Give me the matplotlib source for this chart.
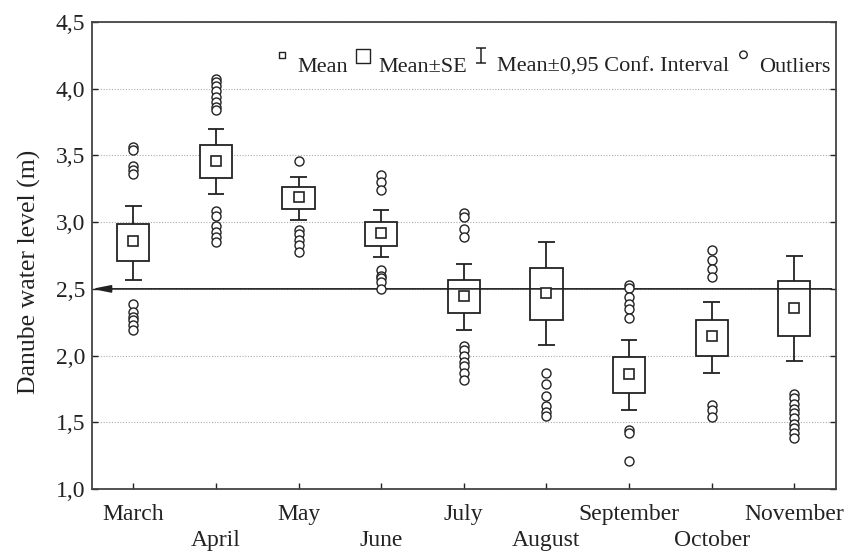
import numpy as np
import matplotlib
matplotlib.use("Agg")
import matplotlib.pyplot as plt
from matplotlib.lines import Line2D
from matplotlib.path import Path
from matplotlib.ticker import FuncFormatter

plt.rcParams["font.family"] = ["Liberation Serif", "DejaVu Serif"]

months = ["March", "April", "May", "June", "July", "August",
          "September", "October", "November"]

# values (m)
mean = [2.86, 3.46, 3.19, 2.92, 2.45, 2.47, 1.86, 2.15, 2.36]
se_low = [2.71, 3.33, 3.10, 2.82, 2.32, 2.27, 1.72, 2.00, 2.15]
se_high = [2.99, 3.58, 3.26, 3.00, 2.57, 2.66, 1.99, 2.27, 2.56]
ci_low = [2.57, 3.21, 3.02, 2.74, 2.19, 2.08, 1.59, 1.87, 1.96]
ci_high = [3.12, 3.70, 3.34, 3.09, 2.69, 2.85, 2.12, 2.40, 2.75]

outliers = [
    [3.56, 3.54, 3.42, 3.39, 3.36, 2.39, 2.33, 2.29, 2.27, 2.23, 2.19],
    [4.07, 4.05, 4.02, 3.98, 3.94, 3.90, 3.86, 3.84,
     3.08, 3.05, 2.97, 2.93, 2.89, 2.85],
    [3.46, 2.94, 2.91, 2.87, 2.83, 2.78],
    [3.35, 3.30, 3.24, 2.64, 2.60, 2.58, 2.55, 2.50],
    [3.07, 3.04, 2.95, 2.89, 2.07, 2.04, 2.00, 1.95, 1.92, 1.87, 1.82],
    [1.87, 1.79, 1.70, 1.62, 1.58, 1.55],
    [2.53, 2.51, 2.44, 2.39, 2.35, 2.28, 1.44, 1.42, 1.21],
    [2.79, 2.72, 2.65, 2.59, 1.63, 1.59, 1.54],
    [1.71, 1.68, 1.64, 1.60, 1.57, 1.53, 1.49, 1.46, 1.42, 1.38],
]

reference_level = 2.5

x = np.arange(1, len(months) + 1)
box_w = 0.39
cap_w = 0.2
ink = "#222222"


def raised_marker(path):
    """Marker path given in points; returns (path, markersize) so it keeps its offset."""
    return path, 2 * np.max(np.abs(path.vertices))


def square(side, lift):
    h = side / 2
    return Path([(-h, lift - h), (h, lift - h), (h, lift + h), (-h, lift + h), (-h, lift - h)],
                [Path.MOVETO, Path.LINETO, Path.LINETO, Path.LINETO, Path.CLOSEPOLY])


fig = plt.figure(figsize=(8.46, 5.51), dpi=100)
ax = fig.add_axes([0.1087, 0.1125, 0.879, 0.8475])

# grid
ax.set_axisbelow(True)
ax.yaxis.grid(True, color="#aaaaaa", linestyle=(0, (1, 1.5)), linewidth=0.8)

# whiskers (confidence interval)
ax.vlines(x, se_high, ci_high, color=ink, linewidth=1.3, zorder=2)
ax.vlines(x, ci_low, se_low, color=ink, linewidth=1.3, zorder=2)
ax.hlines(ci_high, x - cap_w / 2, x + cap_w / 2, color=ink, linewidth=1.3, zorder=2)
ax.hlines(ci_low, x - cap_w / 2, x + cap_w / 2, color=ink, linewidth=1.3, zorder=2)

# SE boxes
heights = np.array(se_high) - np.array(se_low)
ax.bar(x, heights, bottom=se_low, width=box_w, facecolor="white",
       edgecolor=ink, linewidth=1.3, zorder=3)

# reference line with arrow
ax.annotate("", xy=(0.5, reference_level), xytext=(9.45, reference_level),
            arrowprops=dict(arrowstyle="-|>,head_length=1.1,head_width=0.22",
                            color=ink, linewidth=1.2, shrinkA=0, shrinkB=0),
            zorder=4)

# means
ax.plot(x, mean, linestyle="none", marker="s", markersize=7,
        markerfacecolor="white", markeredgecolor=ink,
        markeredgewidth=1.2, zorder=5)

# outliers
for xi, vals in zip(x, outliers):
    ax.plot([xi] * len(vals), vals, linestyle="none", marker="o", markersize=6.5,
            markerfacecolor="white", markeredgecolor=ink,
            markeredgewidth=1.0, zorder=5)

ax.set_xlim(0.5, 9.5)
ax.set_ylim(1.0, 4.5)
ax.set_yticks(np.arange(1.0, 4.51, 0.5))
ax.yaxis.set_major_formatter(FuncFormatter(lambda v, p: f"{v:.1f}".replace(".", ",")))
ax.set_xticks(x)
ax.set_xticklabels([m if i % 2 == 0 else "\n" + m for i, m in enumerate(months)])
for lbl in ax.get_xticklabels():
    lbl.set_linespacing(1.28)
ax.tick_params(axis="both", labelsize=17, direction="in", length=4, width=1,
               colors=ink)
ax.tick_params(axis="y", right=True, pad=5)
ax.tick_params(axis="x", pad=11)
ax.set_ylabel("Danube water level (m)", fontsize=18.5, color=ink)
ax.yaxis.set_label_coords(-0.069, 0.465)

for sp in ax.spines.values():
    sp.set_linewidth(1.3)
    sp.set_color("#444444")

# legend (symbols sit a little above the text, as in the original)
ibeam = Path([(-3.4, 11.6), (3.4, 11.6), (0, 11.6), (0, 0.6), (-3.4, 0.6), (3.4, 0.6)],
             [Path.MOVETO, Path.LINETO, Path.MOVETO, Path.LINETO,
              Path.MOVETO, Path.LINETO])
circ = Path.circle((0, 7.0), 2.7)
m_small, s_small = raised_marker(square(4.3, 6.5))
m_big, s_big = raised_marker(square(10.0, 5.8))
m_ibeam, s_ibeam = raised_marker(ibeam)
m_circ, s_circ = raised_marker(circ)
handles = [
    Line2D([], [], linestyle="none", marker=m_small, markersize=s_small,
           markerfacecolor="white", markeredgecolor=ink, markeredgewidth=1.0),
    Line2D([], [], linestyle="none", marker=m_big, markersize=s_big,
           markerfacecolor="white", markeredgecolor=ink, markeredgewidth=1.0),
    Line2D([], [], linestyle="none", marker=m_ibeam, markersize=s_ibeam,
           markerfacecolor="none", markeredgecolor=ink, markeredgewidth=1.1),
    Line2D([], [], linestyle="none", marker=m_circ, markersize=s_circ,
           markerfacecolor="white", markeredgecolor=ink, markeredgewidth=1.0),
]
labels = ["Mean", "Mean\u00b1SE", "Mean\u00b10,95 Conf. Interval", "Outliers"]
ax.legend(handles, labels, loc="center right", bbox_to_anchor=(0.993, 0.905),
          ncol=4, frameon=False, fontsize=16, handlelength=0.7,
          handletextpad=0.35, columnspacing=0.3, borderpad=0,
          borderaxespad=0, labelcolor=ink)

fig.savefig("out.png", dpi=100)
